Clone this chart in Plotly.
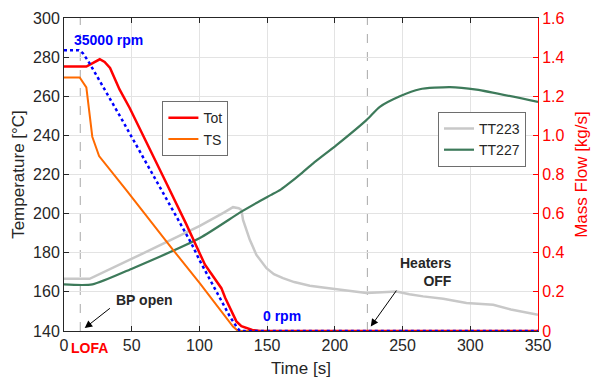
import plotly.graph_objects as go

# ---------------- data ----------------
# Mass flow, total [kg/s]
t_tot = [0, 16.5, 26.4, 30, 34, 41, 48.5, 60, 76, 90, 97.8, 100.2, 104, 107.6, 112, 116.2,
         119, 122.4, 125, 127.3, 131, 134.7, 139, 145, 350]
m_tot = [1.352, 1.352, 1.389, 1.375, 1.345, 1.235, 1.14, 0.98, 0.75, 0.55, 0.43, 0.398, 0.34,
         0.304, 0.26, 0.219, 0.17, 0.117, 0.08, 0.049, 0.025, 0.015, 0.005, 0, 0]

# Mass flow, test section [kg/s]
t_ts = [0, 11.6, 16.5, 20.9, 25.9, 46, 80.5, 100.2, 124.8, 128.5, 350]
m_ts = [1.296, 1.296, 1.245, 0.993, 0.894, 0.72, 0.415, 0.245, 0.023, 0, 0]

# Pump speed [rpm] (shown on the mass-flow axis, 35000 rpm at 1.435)
t_rpm = [0, 11, 14, 19, 42, 94, 100.2, 122.4, 128, 130, 350]
rpm = [35000, 35000, 34630, 33340, 26590, 10950, 8780, 1830, 370, 0, 0]
RPM_FULL = 35000
RPM_FULL_ON_AXIS = 1.435

# Temperatures [°C]
t_223 = [0, 18.9, 51, 100.3, 118, 124.8, 129, 131, 132.2, 137.2, 142.1, 149.5, 155, 161.7,
         170, 181.5, 191.3, 210, 223.3, 235, 245.5, 255, 265.2, 280, 297.2, 316.9, 330, 350]
tt223 = [166.7, 166.7, 177.2, 193.7, 200.5, 203.3, 202.8, 201.9, 196.8, 186.6, 178.9, 172.1,
         169, 167, 165, 163.1, 162.2, 160.6, 159.4, 159.8, 160.2, 158.8, 157.7, 156.5, 154.3,
         153.4, 151, 148.3]

t_227 = [0, 21, 51, 100.3, 131, 145, 153, 160, 168, 176, 184, 201.2, 223.3, 233.2, 248, 262.7,
         284.9, 304.6, 350]
tt227 = [163.8, 163.8, 172.1, 187.5, 201, 206.6, 209.6, 212.3, 216.5, 221, 225.7, 235, 247.8,
         254.6, 260, 263.6, 264.7, 263.4, 257.1]

x_ticks = [0, 50, 100, 150, 200, 250, 300, 350]
y_ticks = [140, 160, 180, 200, 220, 240, 260, 280, 300]
y2_ticks = [0, 0.2, 0.4, 0.6, 0.8, 1.0, 1.2, 1.4, 1.6]
y2_labels = ["0", "0.2", "0.4", "0.6", "0.8", "1.0", "1.2", "1.4", "1.6"]

t_lofa = 12
t_heaters = 224

# ---------------- figure ----------------
FONT = "Liberation Sans, Arial, sans-serif"
TXT = "#262626"

fig = go.Figure()

fig.add_trace(go.Scatter(x=t_223, y=tt223, name="TT223", mode="lines",
                         line=dict(color="#c8c8c8", width=2.5), legend="legend2", yaxis="y"))
fig.add_trace(go.Scatter(x=t_227, y=tt227, name="TT227", mode="lines",
                         line=dict(color="#3d7a5a", width=2.2, shape="spline", smoothing=0.6),
                         legend="legend2", yaxis="y"))
fig.add_trace(go.Scatter(x=t_ts, y=m_ts, name="TS", mode="lines",
                         line=dict(color="#ff6a00", width=2), legend="legend", yaxis="y2"))
fig.add_trace(go.Scatter(x=t_tot, y=m_tot, name="Tot", mode="lines",
                         line=dict(color="#ff0000", width=2.5), legend="legend", yaxis="y2"))
fig.add_trace(go.Scatter(x=t_rpm, y=[r / RPM_FULL * RPM_FULL_ON_AXIS for r in rpm],
                         name="speed", mode="lines", showlegend=False,
                         line=dict(color="#0000ff", width=2.5, dash="dot"), yaxis="y2"))

for tv in (t_lofa, t_heaters):
    fig.add_shape(type="line", xref="x", yref="paper", x0=tv, x1=tv, y0=0, y1=1,
                  line=dict(color="#a8a8a8", width=1, dash="dash"), layer="below")

bold = dict(family=FONT, size=14)
fig.add_annotation(x=6, y=288.6, xref="x", yref="y", text="<b>35000 rpm</b>", showarrow=False,
                   xanchor="left", yanchor="middle", font=dict(bold, color="#0000ff"))
fig.add_annotation(x=145.8, y=147.8, xref="x", yref="y", text="<b>0 rpm</b>", showarrow=False,
                   xanchor="left", yanchor="middle", font=dict(bold, color="#0000ff"))
fig.add_annotation(x=59.4, y=156, xref="x", yref="y", text="<b>BP open</b>", showarrow=False,
                   xanchor="center", yanchor="middle", font=dict(bold, color=TXT))
fig.add_annotation(x=288.3, y=170.4, xref="x", yref="y", text="<b>Heaters<br>OFF</b>",
                   showarrow=False, align="right", xanchor="right", yanchor="middle",
                   font=dict(bold, color=TXT))
fig.add_annotation(x=4, y=-0.053, xref="x", yref="paper", text="<b>LOFA</b>", showarrow=False,
                   xanchor="left", yanchor="middle", font=dict(bold, color="#ff0000"))
# arrows
fig.add_annotation(x=15.3, y=141.5, ax=35, ay=152.2, xref="x", yref="y", axref="x", ayref="y",
                   text="", showarrow=True, arrowhead=2, arrowsize=1.5, arrowwidth=1,
                   arrowcolor="#000000", standoff=0, startstandoff=0)
fig.add_annotation(x=226.5, y=142.3, ax=246.2, ay=161.4, xref="x", yref="y", axref="x", ayref="y",
                   text="", showarrow=True, arrowhead=2, arrowsize=1.5, arrowwidth=1,
                   arrowcolor="#000000", standoff=0, startstandoff=0)

fig.update_layout(
    width=591, height=381,
    margin=dict(l=64, r=53, t=18, b=50, autoexpand=False),
    paper_bgcolor="white", plot_bgcolor="white",
    font=dict(family=FONT, size=16, color=TXT),
    xaxis=dict(range=[0, 350], tickvals=x_ticks, showgrid=True, gridcolor="#e3e3e3",
               gridwidth=1, zeroline=False, showline=True, linecolor=TXT, linewidth=1,
               mirror="ticks", ticks="inside", ticklen=5, tickcolor=TXT, automargin=False,
               tickfont=dict(size=16, color=TXT),
               title=dict(text="Time [s]", font=dict(size=17, color=TXT), standoff=8)),
    yaxis=dict(range=[140, 300], tickvals=y_ticks, showgrid=True, gridcolor="#e3e3e3",
               gridwidth=1, zeroline=False, showline=True, linecolor=TXT, linewidth=1,
               ticks="inside", ticklen=5, tickcolor=TXT, tickfont=dict(size=16, color=TXT),
               automargin=False,
               title=dict(text="Temperature [°C]", font=dict(size=17, color=TXT), standoff=4)),
    yaxis2=dict(range=[0, 1.6], tickvals=y2_ticks, ticktext=y2_labels, overlaying="y",
                side="right", showgrid=False, zeroline=False, showline=True,
                linecolor="#ff0000", linewidth=1, ticks="inside", ticklen=5, tickcolor="#ff0000",
                tickfont=dict(size=16, color="#ff0000"), automargin=False,
                title=dict(text="Mass Flow [kg/s]", font=dict(size=17, color="#ff0000"), standoff=12)),
    legend=dict(x=0.2076, y=0.734, xanchor="left", yanchor="top", bgcolor="white",
                bordercolor="#6e6e6e", borderwidth=1, font=dict(size=14, color=TXT),
                itemwidth=30, tracegroupgap=0, traceorder="reversed"),
    legend2=dict(x=0.789, y=0.700, xanchor="left", yanchor="top", bgcolor="white",
                 bordercolor="#6e6e6e", borderwidth=1, font=dict(size=14, color=TXT),
                 itemwidth=30, tracegroupgap=0),
    showlegend=True,
)

fig.write_html("out.html", config={"displayModeBar": False},
               post_script="document.body.style.margin='0';")
